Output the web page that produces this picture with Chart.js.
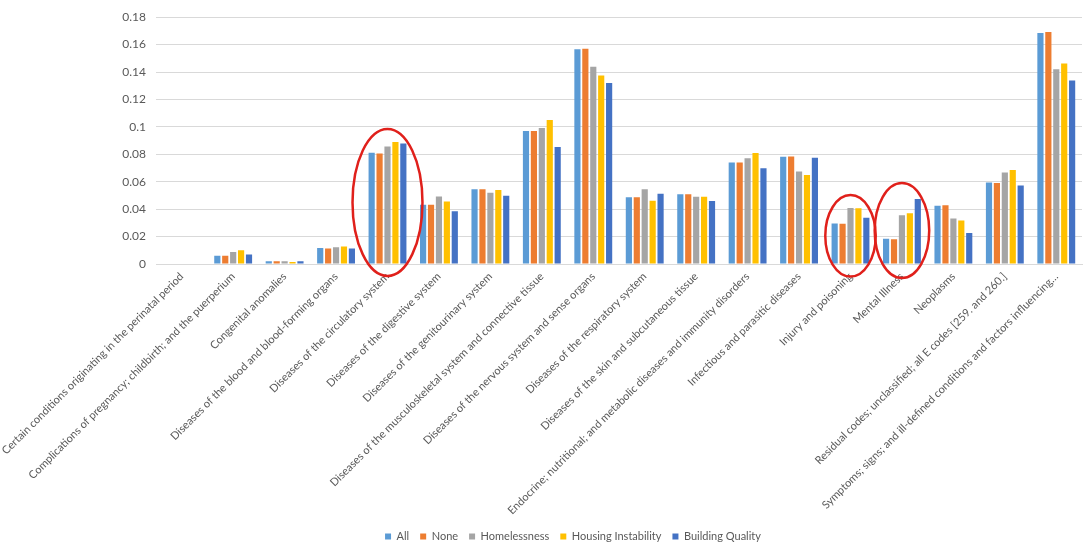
<!DOCTYPE html>
<html>
<head>
<meta charset="utf-8">
<script src="https://cdn.jsdelivr.net/npm/chart.js@4/dist/chart.umd.min.js"></script>
<style>
  html, body { margin: 0; padding: 0; background: #ffffff; }
  #wrap { width: 1084px; height: 552px; }
</style>
</head>
<body>
<div id="wrap"><canvas id="c" width="1084" height="552"></canvas></div>
<script>
const categories = [
  "Certain conditions originating in the perinatal period",
  "Complications of pregnancy; childbirth; and the puerperium",
  "Congenital anomalies",
  "Diseases of the blood and blood-forming organs",
  "Diseases of the circulatory system",
  "Diseases of the digestive system",
  "Diseases of the genitourinary system",
  "Diseases of the musculoskeletal system and connective tissue",
  "Diseases of the nervous system and sense organs",
  "Diseases of the respiratory system",
  "Diseases of the skin and subcutaneous tissue",
  "Endocrine; nutritional; and metabolic diseases and immunity disorders",
  "Infectious and parasitic diseases",
  "Injury and poisoning",
  "Mental Illness",
  "Neoplasms",
  "Residual codes; unclassified; all E codes [259. and 260.]",
  "Symptoms; signs; and ill-defined conditions and factors influencing…"
];
const seriesNames = ["All", "None", "Homelessness", "Housing Instability", "Building Quality"];
const valuesAll      = [0, 0.0060, 0.0020, 0.0116, 0.0811, 0.0433, 0.0546, 0.0970, 0.1567, 0.0486, 0.0508, 0.0741, 0.0782, 0.0296, 0.0185, 0.0424, 0.0594, 0.1685];
const valuesNone     = [0, 0.0060, 0.0020, 0.0113, 0.0806, 0.0433, 0.0546, 0.0970, 0.1569, 0.0486, 0.0508, 0.0741, 0.0784, 0.0294, 0.0180, 0.0428, 0.0590, 0.1692];
const valuesHomeless = [0, 0.0087, 0.0020, 0.0123, 0.0857, 0.0493, 0.0520, 0.0991, 0.1439, 0.0546, 0.0491, 0.0772, 0.0674, 0.0409, 0.0356, 0.0332, 0.0667, 0.1420];
const valuesHousing  = [0, 0.0101, 0.0015, 0.0128, 0.0890, 0.0455, 0.0539, 0.1050, 0.1374, 0.0462, 0.0491, 0.0809, 0.0650, 0.0407, 0.0371, 0.0318, 0.0686, 0.1463];
const valuesBuilding = [0, 0.0070, 0.0020, 0.0113, 0.0878, 0.0385, 0.0498, 0.0854, 0.1321, 0.0513, 0.0460, 0.0698, 0.0775, 0.0337, 0.0474, 0.0226, 0.0573, 0.1338];
const yTicks = [0, 0.02, 0.04, 0.06, 0.08, 0.1, 0.12, 0.14, 0.16, 0.18];

const colors = ["#5B9BD5", "#ED7D31", "#A5A5A5", "#FFC000", "#4472C4"];
const allValues = [valuesAll, valuesNone, valuesHomeless, valuesHousing, valuesBuilding];

const ellipsePlugin = {
  id: 'ellipses',
  afterDatasetsDraw(chart) {
    const xs = chart.scales.x, ys = chart.scales.y;
    const catW = xs.width / categories.length;
    const marks = [
      { idx: 4,  top: 0.0985, bottom: -0.0087, rx: 0.68 },
      { idx: 13, top: 0.0503, bottom: -0.0092, rx: 0.49 },
      { idx: 14, top: 0.0590, bottom: -0.0103, rx: 0.53 }
    ];
    const ctx = chart.ctx;
    ctx.save();
    ctx.strokeStyle = '#E0201B';
    ctx.lineWidth = 2.5;
    marks.forEach(m => {
      const cx = xs.getPixelForValue(m.idx);
      const y1 = ys.getPixelForValue(m.top);
      const y2 = ys.getPixelForValue(m.bottom);
      ctx.beginPath();
      ctx.ellipse(cx, (y1 + y2) / 2, m.rx * catW, (y2 - y1) / 2, 0, 0, Math.PI * 2);
      ctx.stroke();
    });
    ctx.restore();
  }
};

const FONT = "Lato, 'Liberation Sans', sans-serif";

new Chart(document.getElementById('c'), {
  type: 'bar',
  data: {
    labels: categories,
    datasets: seriesNames.map((n, i) => ({
      label: n,
      data: allValues[i],
      backgroundColor: colors[i],
      borderWidth: 0,
      categoryPercentage: 0.77,
      barPercentage: 0.78
    }))
  },
  options: {
    responsive: false,
    animation: false,
    devicePixelRatio: 1,
    layout: { padding: { top: 4, right: 2, left: 64, bottom: 0 } },
    plugins: {
      legend: {
        position: 'bottom',
        labels: {
          boxWidth: 6, boxHeight: 6, padding: 11,
          color: '#595959',
          font: { family: FONT, size: 11 }
        }
      },
      tooltip: { enabled: false }
    },
    scales: {
      x: {
        grid: { display: false, drawTicks: false },
        border: { display: true, color: '#D9D9D9' },
        ticks: {
          autoSkip: false, minRotation: 45, maxRotation: 45,
          padding: 6,
          color: '#595959',
          font: { family: FONT, size: 11 }
        },
        afterFit(scale) { scale.height = 256; scale.paddingLeft = 0; scale.paddingRight = 0; }
      },
      y: {
        min: 0, max: 0.18,
        afterBuildTicks(scale) { scale.ticks = yTicks.map(v => ({ value: v })); },
        grid: { color: '#D9D9D9', drawTicks: false },
        border: { display: false },
        ticks: {
          padding: 10,
          color: '#595959',
          font: { family: FONT, size: 12 },
          callback: v => String(+Number(v).toFixed(2))
        },
        afterFit(scale) { scale.width = 92; }
      }
    }
  },
  plugins: [ellipsePlugin]
});
</script>
</body>
</html>
